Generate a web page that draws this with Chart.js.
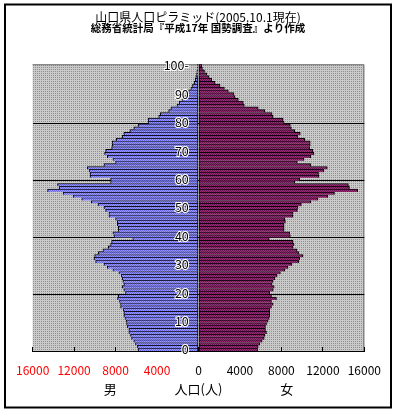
<!DOCTYPE html>
<html>
<head>
<meta charset="utf-8">
<script src="https://cdn.jsdelivr.net/npm/chart.js@4/dist/chart.umd.min.js"></script>
<style>
  html, body { margin: 0; padding: 0; background: #fff; }
  #wrap { width: 397px; height: 413px; }
</style>
</head>
<body>
<div id="wrap"><canvas id="pyramid" width="397" height="413"></canvas></div>
<script>
'use strict';

/* DATA (age 0 .. 100, persons) */
let ages = [];
for (let a = 0; a < 100; a++) ages.push(String(a));
ages.push('100-');

let male = [
  5820, 5920, 6080, 6240, 6460, 6560, 6720, 6720, 6880, 6940,
  6980, 7100, 7200, 7200, 7260, 7520, 7520, 7620, 7810, 7740,
  7040, 7200, 7360, 7200, 7300, 7360, 7460, 7680, 8260, 8800,
  9120, 9920, 10080, 10020, 9660, 9220, 8700, 8480, 8380, 6340,
  8160, 8260, 7740, 7740, 7840, 7840, 8000, 8640, 8640, 8960,
  9120, 9700, 10340, 11260, 12100, 13060, 14560, 13440, 13600, 8480,
  8480, 10460, 10460, 10560, 10720, 9120, 8000, 8260, 8800, 9060,
  8960, 8380, 8320, 8320, 7940, 7360, 7200, 6620, 6240, 5820,
  4860, 4860, 3840, 3680, 2880, 2660, 2080, 1860, 1540, 1340,
  1180, 960, 740, 580, 420, 320, 260, 190, 160, 100,
  100
];

let female = [
  5700, 5760, 5920, 6140, 6340, 6400, 6560, 6460, 6460, 6560,
  6720, 6820, 6880, 6880, 6880, 7040, 7200, 7040, 7520, 7040,
  6880, 7200, 7300, 7100, 7200, 7360, 7580, 7900, 8320, 8640,
  9020, 9660, 9760, 10080, 9660, 9500, 9120, 9220, 9120, 6820,
  8860, 8800, 8260, 8260, 8260, 8380, 8320, 9120, 9120, 9540,
  9600, 9920, 10820, 11520, 12480, 13120, 15360, 14560, 14460, 9280,
  9760, 11620, 11580, 12100, 12420, 10820, 9540, 10180, 10820, 11140,
  11040, 10720, 10780, 10780, 10240, 9600, 9820, 9280, 8960, 8860,
  8260, 8160, 7200, 7100, 6400, 5760, 4420, 4320, 3840, 3520,
  3420, 2880, 2500, 2080, 1600, 1280, 1020, 800, 580, 380,
  320
];

let popTicks = [-16000, -12000, -8000, -4000, 0, 4000, 8000, 12000, 16000];

/* PATTERNS */
function makePattern(c1, c2, dotOnly) {
  let tile = document.createElement('canvas');
  tile.width = 2;
  tile.height = 2;
  let t = tile.getContext('2d');
  t.fillStyle = c1;
  t.fillRect(0, 0, 2, 2);
  t.fillStyle = c2;
  if (dotOnly) {
    t.fillRect(1, 1, 1, 1);
  } else {
    t.fillRect(0, 0, 1, 1);
    t.fillRect(1, 1, 1, 1);
  }
  return document.getElementById('pyramid').getContext('2d').createPattern(tile, 'repeat');
}

let bgPattern = makePattern('#cacaca', '#8f8f8f', true);
let malePattern = makePattern('#9c9cff', '#6666f0', false);
let femalePattern = makePattern('#9c2f70', '#6a1258', false);

let jpFont = '"Noto Sans CJK JP", "Noto Sans", sans-serif';

/* BACKGROUND + FRAME */
let framePlugin = {
  id: 'frame',
  beforeDraw(chart) {
    let ctx = chart.ctx;
    let a = chart.chartArea;
    ctx.save();
    ctx.fillStyle = '#fff';
    ctx.fillRect(0, 0, chart.width, chart.height);
    ctx.fillStyle = bgPattern;
    ctx.fillRect(a.left, a.top, a.right - a.left, a.bottom - a.top);
    ctx.strokeStyle = '#6e6e6e';
    ctx.lineWidth = 1;
    ctx.beginPath();
    ctx.moveTo(a.left, a.top + 0.5);
    ctx.lineTo(a.right - 0.5, a.top + 0.5);
    ctx.lineTo(a.right - 0.5, a.bottom);
    ctx.stroke();
    ctx.strokeStyle = '#000';
    ctx.lineWidth = 2;
    ctx.strokeRect(5, 4.5, 386, 403);
    ctx.restore();
  }
};

function renderChart() {
  let ctx = document.getElementById('pyramid').getContext('2d');
  let barBorder = { top: 1, left: 1, right: 1, bottom: 0 };

  new Chart(ctx, {
    type: 'bar',
    data: {
      labels: ages,
      datasets: [
        {
          label: '男',
          data: male.map((v) => -v),
          backgroundColor: malePattern,
          borderColor: '#000',
          borderWidth: barBorder,
          borderSkipped: false,
          categoryPercentage: 1,
          barPercentage: 1,
          grouped: false,
        },
        {
          label: '女',
          data: female,
          backgroundColor: femalePattern,
          borderColor: '#000',
          borderWidth: barBorder,
          borderSkipped: false,
          categoryPercentage: 1,
          barPercentage: 1,
          grouped: false,
        },
      ],
    },
    options: {
      indexAxis: 'y',
      responsive: false,
      animation: false,
      events: [],
      layout: {
        padding: { left: 31, right: 32, top: 0, bottom: 16 },
      },
      plugins: {
        legend: { display: false },
        tooltip: { enabled: false },
        title: {
          display: true,
          text: '山口県人口ピラミッド(2005.10.1現在)',
          color: '#000',
          font: { family: jpFont, size: 12, weight: 'normal', lineHeight: 0.9 },
          padding: { top: 12, bottom: 0 },
        },
        subtitle: {
          display: true,
          text: '総務省統計局『平成17年 国勢調査』より作成',
          color: '#000',
          font: { family: jpFont, size: 10.5, weight: 'bold', lineHeight: 0.9 },
          padding: { top: 0, bottom: 32 },
        },
      },
      scales: {
        x: {
          type: 'linear',
          min: -16000,
          max: 16000,
          ticks: {
            autoSkip: false,
            padding: 16,
            color: (c) => (c.tick && c.tick.value < 0 ? '#ff0000' : '#000'),
            font: { family: jpFont, size: 12 },
            callback: (v) => String(Math.abs(v)),
          },
          afterBuildTicks: (scale) => {
            scale.ticks = popTicks.map((v) => ({ value: v }));
          },
          grid: {
            drawOnChartArea: false,
            color: '#000',
            tickLength: -4,
          },
          border: { color: '#000', width: 1 },
          title: {
            display: true,
            text: '男\u3000\u3000\u3000\u3000  人口(人)  \u3000\u3000\u3000\u3000女',
            color: '#000',
            font: { family: jpFont, size: 13 },
            padding: { top: -12, bottom: 0 },
          },
        },
        y: {
          type: 'category',
          position: 'left',
          reverse: true,
          afterFit: (scale) => {
            scale.width = 0;
            scale.paddingTop = 0;
            scale.paddingBottom = 0;
          },
          ticks: {
            z: 1,
            mirror: true,
            crossAlign: 'far',
            autoSkip: false,
            padding: 131,
            color: '#000',
            font: { family: jpFont, size: 12.5 },
            textStrokeColor: '#fff',
            textStrokeWidth: 2,
            callback: (v) => (v % 10 === 0 ? ages[v] : ''),
          },
          grid: {
            z: -1,
            drawTicks: false,
            color: (c) => {
              let i = c.index;
              return i > 0 && i < 100 && i % 20 === 0 ? '#000' : 'rgba(0,0,0,0)';
            },
          },
          border: { display: false },
        },
      },
    },
    plugins: [framePlugin],
  });
}
renderChart();
</script>
</body>
</html>
